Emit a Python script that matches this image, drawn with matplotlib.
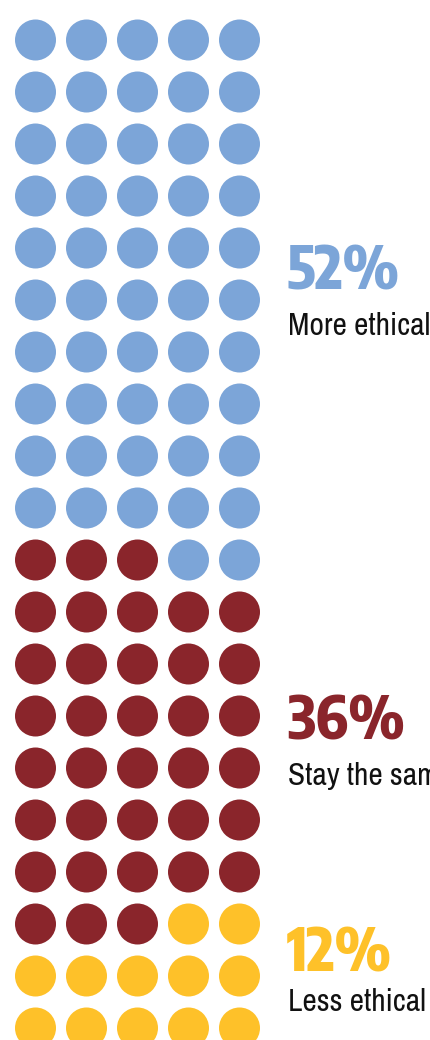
import numpy as np
import matplotlib.pyplot as plt

# shares of respondents
labels = ['More ethical', 'Stay the same', 'Less ethical']
values = [52, 36, 12]
colors = ['#7ca5d8', '#8a252b', '#fec129']
n_cols = 5
n_rows = 20

# fill rows top-down, then put the dark red dots first inside a mixed row
cum = np.cumsum([0] + values)
row_order = [1, 0, 2]
grid = []
for r in range(n_rows):
    lo, hi = r * n_cols, (r + 1) * n_cols
    counts = [max(0, min(hi, cum[i + 1]) - max(lo, cum[i])) for i in range(len(values))]
    row = []
    for k in row_order:
        row += [k] * counts[k]
    grid.append(row)

W, H = 430, 1040
fig = plt.figure(figsize=(W / 100, H / 100), dpi=100)
ax = fig.add_axes([0, 0, 1, 1])
ax.set_xlim(0, W)
ax.set_ylim(H, 0)
ax.axis('off')

x0, dx = 35.5, 51
y0, dy = 40, 52
rad = 20.5
for r, row in enumerate(grid):
    for c, k in enumerate(row):
        ax.add_patch(plt.Circle((x0 + c * dx, y0 + r * dy), rad, color=colors[k], lw=0))

# annotations: big percentage + label below
pct_y = [290, 740, 971]
lab_y = [335, 785, 1011]
for i in range(len(values)):
    ax.text(287, pct_y[i], '%d%%' % values[i], color=colors[i], fontsize=42,
            fontweight=800, family=['Encode Sans Condensed', 'Liberation Sans'],
            va='baseline', ha='left')
    ax.text(288, lab_y[i], labels[i], color='#111111', fontsize=22.6,
            family=['Archivo Narrow', 'DejaVu Sans'],
            va='baseline', ha='left')

fig.savefig('out.png', dpi=100)
